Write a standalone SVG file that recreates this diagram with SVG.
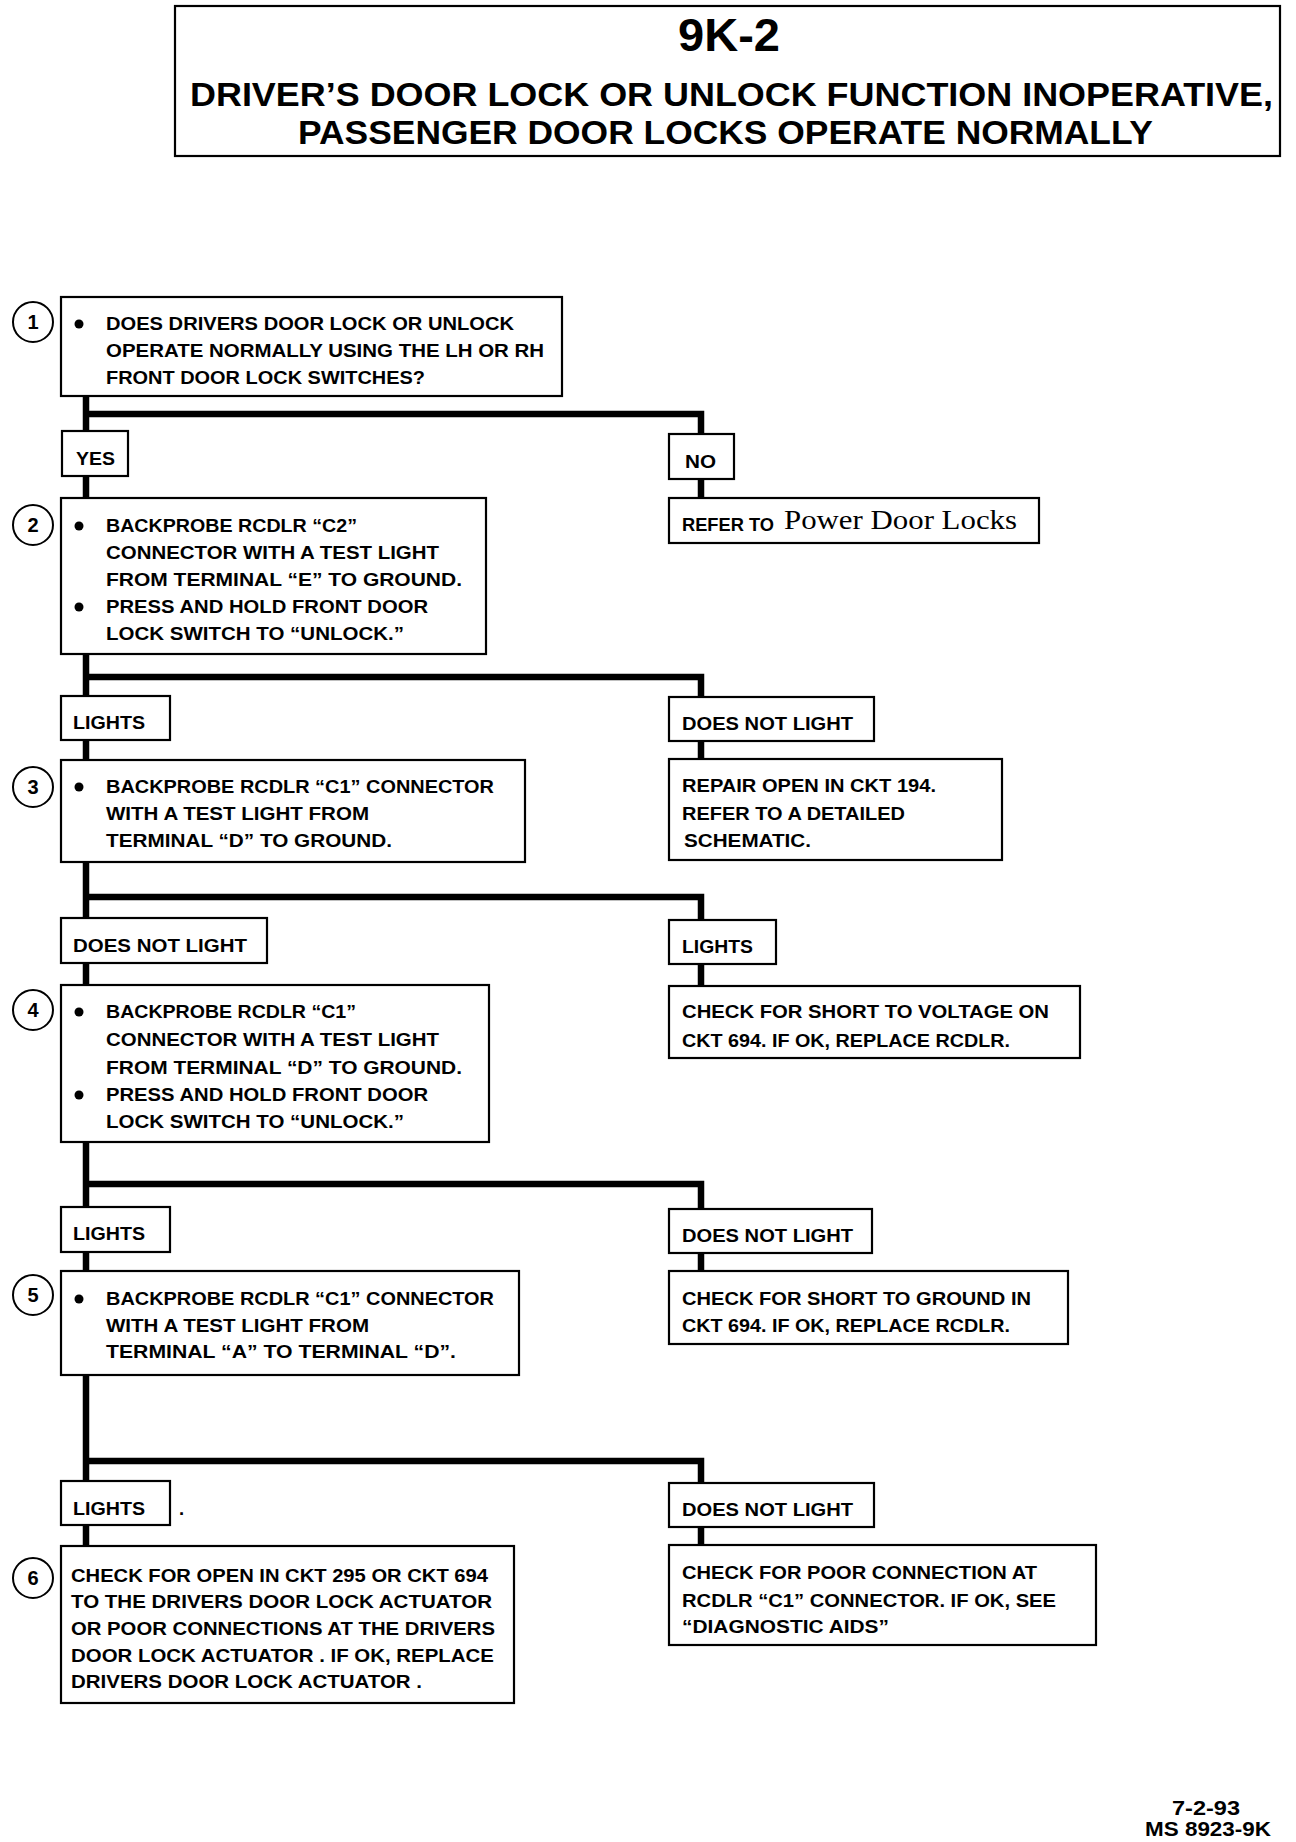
<svg xmlns="http://www.w3.org/2000/svg" width="1296" height="1842" viewBox="0 0 1296 1842">
<style>
.bg{fill:#fff}
.box{fill:#fff;stroke:#000;stroke-width:2.2}
.lbl{fill:#fff;stroke:#000;stroke-width:2.2}
.num{fill:#fff;stroke:#000;stroke-width:2}
.t{font-family:"Liberation Sans",Arial,sans-serif;font-weight:bold;font-size:18.5px;fill:#000}
.n{font-family:"Liberation Sans",Arial,sans-serif;font-weight:bold;font-size:20px;fill:#000;text-anchor:middle}
.ser{font-family:"Liberation Serif","Times New Roman",serif;font-size:27px;fill:#000}
.h{font-family:"Liberation Sans",Arial,sans-serif;font-weight:bold;fill:#000}
.con{fill:none;stroke:#000;stroke-width:6.5;stroke-linejoin:miter;stroke-linecap:butt}
.dot{fill:#000}
</style>
<rect class="bg" x="0" y="0" width="1296" height="1842"/>

<g id="connectors">
<path class="con" d="M86 396 V1546"/>
<path class="con" d="M86 414 H701 V498"/>
<path class="con" d="M86 677 H701 V759"/>
<path class="con" d="M86 897 H701 V986"/>
<path class="con" d="M86 1184 H701 V1271"/>
<path class="con" d="M86 1461 H701 V1545"/>
</g>

<g id="title">
<rect class="box" x="175" y="6" width="1105" height="150"/>
<text class="h" x="729" y="51" font-size="46" text-anchor="middle" textLength="102" lengthAdjust="spacingAndGlyphs">9K-2</text>
<text class="h" x="190" y="106" font-size="33" textLength="1083" lengthAdjust="spacingAndGlyphs">DRIVER’S DOOR LOCK OR UNLOCK FUNCTION INOPERATIVE,</text>
<text class="h" x="298" y="144" font-size="34" textLength="855" lengthAdjust="spacingAndGlyphs">PASSENGER DOOR LOCKS OPERATE NORMALLY</text>
</g>

<g id="step1">
<circle class="num" cx="33" cy="322" r="20"/>
<text class="n" x="33" y="329">1</text>
<rect class="box" x="61" y="297" width="501" height="99"/>
<circle class="dot" cx="79" cy="324" r="4.5"/>
<text class="t" x="106" y="330" textLength="408" lengthAdjust="spacingAndGlyphs">DOES DRIVERS DOOR LOCK OR UNLOCK</text>
<text class="t" x="106" y="357" textLength="438" lengthAdjust="spacingAndGlyphs">OPERATE NORMALLY USING THE LH OR RH</text>
<text class="t" x="106" y="384" textLength="319" lengthAdjust="spacingAndGlyphs">FRONT DOOR LOCK SWITCHES?</text>
</g>

<g id="yes1">
<rect class="lbl" x="62" y="431" width="66" height="45"/>
<text class="t" x="76" y="465" textLength="39" lengthAdjust="spacingAndGlyphs">YES</text>
</g>
<g id="no1">
<rect class="lbl" x="669" y="434" width="65" height="45"/>
<text class="t" x="685" y="468" textLength="31" lengthAdjust="spacingAndGlyphs">NO</text>
</g>
<g id="refer">
<rect class="box" x="669" y="498" width="370" height="45"/>
<text class="t" x="682" y="531" font-size="17" textLength="92" lengthAdjust="spacingAndGlyphs">REFER TO</text>
<text class="ser" x="784" y="529" textLength="233" lengthAdjust="spacingAndGlyphs">Power  Door  Locks</text>
</g>

<g id="step2">
<circle class="num" cx="33" cy="525" r="20"/>
<text class="n" x="33" y="532">2</text>
<rect class="box" x="61" y="498" width="425" height="156"/>
<circle class="dot" cx="79" cy="526" r="4.5"/>
<text class="t" x="106" y="532" textLength="251" lengthAdjust="spacingAndGlyphs">BACKPROBE RCDLR “C2”</text>
<text class="t" x="106" y="559" textLength="333" lengthAdjust="spacingAndGlyphs">CONNECTOR WITH A TEST LIGHT</text>
<text class="t" x="106" y="586" textLength="356" lengthAdjust="spacingAndGlyphs">FROM TERMINAL “E” TO GROUND.</text>
<circle class="dot" cx="79" cy="607" r="4.5"/>
<text class="t" x="106" y="613" textLength="322" lengthAdjust="spacingAndGlyphs">PRESS AND HOLD FRONT DOOR</text>
<text class="t" x="106" y="640" textLength="298" lengthAdjust="spacingAndGlyphs">LOCK SWITCH TO “UNLOCK.”</text>
</g>

<g id="lights2">
<rect class="lbl" x="61" y="696" width="109" height="44"/>
<text class="t" x="73" y="729" textLength="72" lengthAdjust="spacingAndGlyphs">LIGHTS</text>
</g>
<g id="notlight2">
<rect class="lbl" x="669" y="697" width="205" height="44"/>
<text class="t" x="682" y="730" textLength="171" lengthAdjust="spacingAndGlyphs">DOES NOT LIGHT</text>
</g>
<g id="repair">
<rect class="box" x="669" y="759" width="333" height="101"/>
<text class="t" x="682" y="792" textLength="254" lengthAdjust="spacingAndGlyphs">REPAIR OPEN IN CKT 194.</text>
<text class="t" x="682" y="820" textLength="223" lengthAdjust="spacingAndGlyphs">REFER TO A DETAILED</text>
<text class="t" x="684" y="847" textLength="127" lengthAdjust="spacingAndGlyphs">SCHEMATIC.</text>
</g>

<g id="step3">
<circle class="num" cx="33" cy="787" r="20"/>
<text class="n" x="33" y="794">3</text>
<rect class="box" x="61" y="760" width="464" height="102"/>
<circle class="dot" cx="79" cy="787" r="4.5"/>
<text class="t" x="106" y="793" textLength="388" lengthAdjust="spacingAndGlyphs">BACKPROBE RCDLR “C1” CONNECTOR</text>
<text class="t" x="106" y="820" textLength="263" lengthAdjust="spacingAndGlyphs">WITH A TEST LIGHT FROM</text>
<text class="t" x="106" y="847" textLength="286" lengthAdjust="spacingAndGlyphs">TERMINAL “D” TO GROUND.</text>
</g>

<g id="notlight3">
<rect class="lbl" x="61" y="918" width="206" height="45"/>
<text class="t" x="73" y="952" textLength="174" lengthAdjust="spacingAndGlyphs">DOES NOT LIGHT</text>
</g>
<g id="lights3">
<rect class="lbl" x="669" y="920" width="107" height="44"/>
<text class="t" x="682" y="953" textLength="71" lengthAdjust="spacingAndGlyphs">LIGHTS</text>
</g>
<g id="voltage">
<rect class="box" x="669" y="986" width="411" height="72"/>
<text class="t" x="682" y="1018" textLength="367" lengthAdjust="spacingAndGlyphs">CHECK FOR SHORT TO VOLTAGE ON</text>
<text class="t" x="682" y="1047" textLength="328" lengthAdjust="spacingAndGlyphs">CKT 694.  IF OK, REPLACE RCDLR.</text>
</g>

<g id="step4">
<circle class="num" cx="33" cy="1010" r="20"/>
<text class="n" x="33" y="1017">4</text>
<rect class="box" x="61" y="985" width="428" height="157"/>
<circle class="dot" cx="79" cy="1012" r="4.5"/>
<text class="t" x="106" y="1018" textLength="250" lengthAdjust="spacingAndGlyphs">BACKPROBE RCDLR “C1”</text>
<text class="t" x="106" y="1046" textLength="333" lengthAdjust="spacingAndGlyphs">CONNECTOR WITH A TEST LIGHT</text>
<text class="t" x="106" y="1074" textLength="356" lengthAdjust="spacingAndGlyphs">FROM TERMINAL “D” TO GROUND.</text>
<circle class="dot" cx="79" cy="1095" r="4.5"/>
<text class="t" x="106" y="1101" textLength="322" lengthAdjust="spacingAndGlyphs">PRESS AND HOLD FRONT DOOR</text>
<text class="t" x="106" y="1128" textLength="298" lengthAdjust="spacingAndGlyphs">LOCK SWITCH TO “UNLOCK.”</text>
</g>

<g id="lights4">
<rect class="lbl" x="61" y="1207" width="109" height="45"/>
<text class="t" x="73" y="1240" textLength="72" lengthAdjust="spacingAndGlyphs">LIGHTS</text>
</g>
<g id="notlight4">
<rect class="lbl" x="669" y="1209" width="203" height="44"/>
<text class="t" x="682" y="1242" textLength="171" lengthAdjust="spacingAndGlyphs">DOES NOT LIGHT</text>
</g>
<g id="ground">
<rect class="box" x="669" y="1271" width="399" height="73"/>
<text class="t" x="682" y="1305" textLength="349" lengthAdjust="spacingAndGlyphs">CHECK FOR SHORT TO GROUND IN</text>
<text class="t" x="682" y="1332" textLength="328" lengthAdjust="spacingAndGlyphs">CKT 694.  IF OK, REPLACE RCDLR.</text>
</g>

<g id="step5">
<circle class="num" cx="33" cy="1295" r="20"/>
<text class="n" x="33" y="1302">5</text>
<rect class="box" x="61" y="1271" width="458" height="104"/>
<circle class="dot" cx="79" cy="1299" r="4.5"/>
<text class="t" x="106" y="1305" textLength="388" lengthAdjust="spacingAndGlyphs">BACKPROBE RCDLR “C1” CONNECTOR</text>
<text class="t" x="106" y="1332" textLength="263" lengthAdjust="spacingAndGlyphs">WITH A TEST LIGHT FROM</text>
<text class="t" x="106" y="1358" textLength="350" lengthAdjust="spacingAndGlyphs">TERMINAL “A” TO TERMINAL “D”.</text>
</g>

<g id="lights5">
<rect class="lbl" x="61" y="1481" width="109" height="44"/>
<text class="t" x="73" y="1515" textLength="72" lengthAdjust="spacingAndGlyphs">LIGHTS</text>
<text class="t" x="179" y="1515">.</text>
</g>
<g id="notlight5">
<rect class="lbl" x="669" y="1483" width="205" height="44"/>
<text class="t" x="682" y="1516" textLength="171" lengthAdjust="spacingAndGlyphs">DOES NOT LIGHT</text>
</g>
<g id="poor">
<rect class="box" x="669" y="1545" width="427" height="100"/>
<text class="t" x="682" y="1579" textLength="355" lengthAdjust="spacingAndGlyphs">CHECK FOR POOR CONNECTION AT</text>
<text class="t" x="682" y="1607" textLength="374" lengthAdjust="spacingAndGlyphs">RCDLR “C1” CONNECTOR.  IF OK, SEE</text>
<text class="t" x="682" y="1633" textLength="207" lengthAdjust="spacingAndGlyphs">“DIAGNOSTIC AIDS”</text>
</g>

<g id="step6">
<circle class="num" cx="33" cy="1578" r="20"/>
<text class="n" x="33" y="1585">6</text>
<rect class="box" x="61" y="1546" width="453" height="157"/>
<text class="t" x="71" y="1582" textLength="417" lengthAdjust="spacingAndGlyphs">CHECK FOR OPEN IN CKT 295 OR CKT 694</text>
<text class="t" x="71" y="1608" textLength="421" lengthAdjust="spacingAndGlyphs">TO THE DRIVERS DOOR LOCK ACTUATOR</text>
<text class="t" x="71" y="1635" textLength="424" lengthAdjust="spacingAndGlyphs">OR POOR CONNECTIONS AT THE DRIVERS</text>
<text class="t" x="71" y="1662" textLength="423" lengthAdjust="spacingAndGlyphs">DOOR LOCK ACTUATOR .  IF OK, REPLACE</text>
<text class="t" x="71" y="1688" textLength="351" lengthAdjust="spacingAndGlyphs">DRIVERS DOOR LOCK ACTUATOR .</text>
</g>

<g id="footer">
<text class="h" x="1206" y="1815" font-size="20" text-anchor="middle" textLength="68" lengthAdjust="spacingAndGlyphs">7-2-93</text>
<text class="h" x="1208" y="1836" font-size="20" text-anchor="middle" textLength="126" lengthAdjust="spacingAndGlyphs">MS 8923-9K</text>
</g>
</svg>
